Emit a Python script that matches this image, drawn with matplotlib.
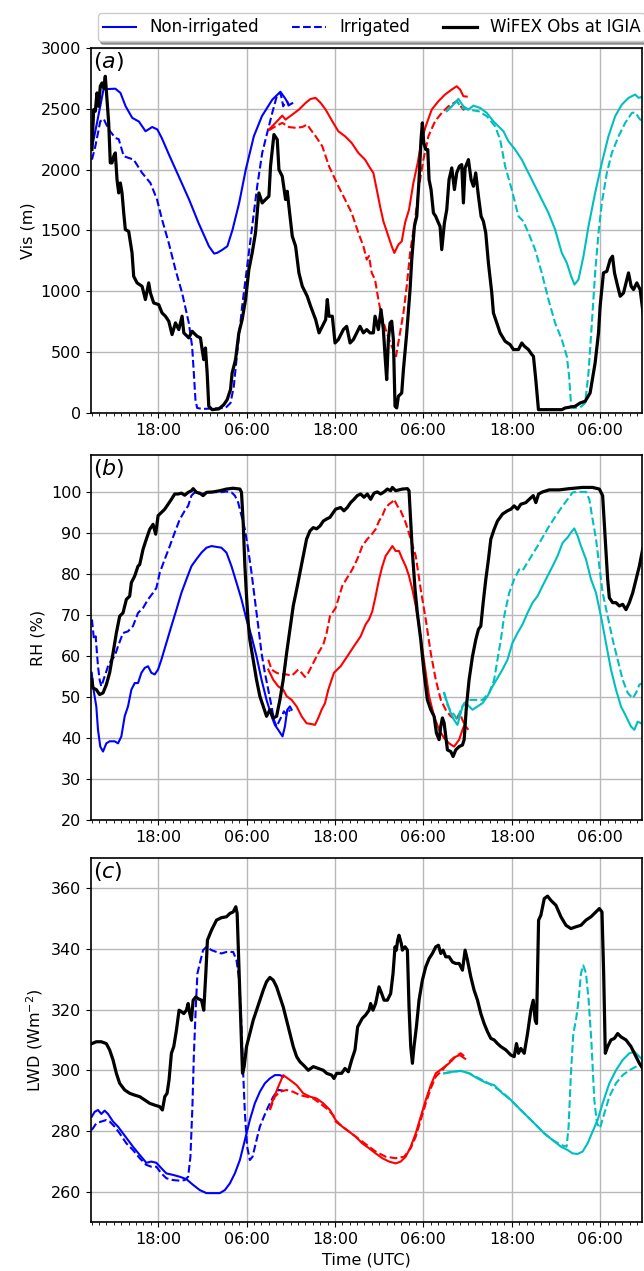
import numpy as np
import pandas as pd
import matplotlib
matplotlib.use("Agg")
import matplotlib.pyplot as plt
import matplotlib.dates as mdates

plt.rcParams["font.size"] = 11.5

# (hour since day-1 00 UTC, value)
# ---- (a) visibility (m)
vis_obs = [(9.03, 2165), (9.26, 2493), (9.49, 2480), (9.71, 2630), (9.94, 2520), (10.16, 2685),
           (10.39, 2712), (10.62, 2670), (10.84, 2767), (11.07, 2575), (11.3, 2384), (11.52, 2055),
           (11.75, 2055), (11.98, 2110), (12.2, 2137), (12.43, 1918), (12.66, 1808), (12.88, 1890),
           (13.11, 1808), (13.34, 1644), (13.56, 1507), (14.01, 1493), (14.47, 1315), (14.69, 1123),
           (15.15, 1069), (15.83, 1041), (16.28, 932), (16.73, 1069), (16.96, 986), (17.41, 904),
           (18.09, 890), (18.54, 822), (19.0, 795), (19.45, 754), (19.9, 644), (20.36, 740),
           (20.81, 685), (21.26, 795), (21.49, 658), (22.17, 617), (22.62, 671), (23.3, 630),
           (23.75, 617), (23.98, 521), (24.2, 438), (24.43, 534), (24.66, 329), (24.88, 55),
           (25.34, 27), (26.24, 33), (26.92, 68), (27.38, 110), (27.83, 192), (28.05, 329),
           (28.51, 438), (28.96, 658), (29.41, 767), (29.87, 932), (30.32, 1178), (30.77, 1315),
           (31.22, 1480), (31.68, 1808), (32.13, 1726), (32.58, 1754), (33.04, 1781), (33.26, 2028),
           (33.72, 2288), (34.17, 2247), (34.4, 2000), (34.85, 1945), (35.3, 1754), (35.53, 1822),
           (35.75, 1699), (36.21, 1452), (36.66, 1370), (37.11, 1151), (37.57, 1041), (38.24, 959),
           (38.7, 877), (39.38, 767), (39.84, 658), (40.28, 712), (40.74, 767), (40.96, 932),
           (41.19, 795), (41.64, 795), (42.01, 575), (42.46, 603), (43.14, 685), (43.59, 712),
           (44.05, 575), (44.5, 603), (44.95, 658), (45.4, 712), (45.86, 658), (46.31, 685),
           (46.76, 658), (47.21, 658), (47.44, 795), (47.89, 685), (48.25, 849), (48.57, 685),
           (48.8, 466), (49.02, 274), (49.25, 603), (49.48, 740), (49.7, 754), (49.93, 603),
           (50.15, 55), (50.38, 41), (50.61, 137), (51.06, 164), (51.29, 356), (51.74, 658),
           (52.19, 1014), (52.42, 1260), (52.78, 1534), (53.1, 1616), (53.41, 1918), (53.68, 2247),
           (53.86, 2384), (54.05, 2220), (54.32, 2165), (54.59, 2165), (54.77, 1918), (55.04, 1836),
           (55.36, 1644), (55.67, 1616), (56.04, 1562), (56.26, 1534), (56.49, 1342), (56.85, 1562),
           (57.17, 1671), (57.48, 1918), (57.85, 2014), (58.21, 1836), (58.52, 1973), (58.89, 2028),
           (59.2, 2041), (59.43, 1726), (59.66, 2014), (60.11, 2082), (60.47, 1918), (60.79, 1863),
           (61.1, 1973), (61.47, 1781), (61.83, 1616), (62.14, 1575), (62.46, 1480), (62.82, 1233),
           (63.28, 986), (63.5, 822), (63.95, 740), (64.41, 658), (65.09, 589), (65.76, 562),
           (66.22, 521), (66.9, 521), (67.35, 575), (67.71, 548), (68.25, 521), (68.71, 480),
           (68.93, 466), (69.25, 274), (69.61, 27), (70.52, 27), (72.78, 27), (73.23, 41),
           (74.59, 55), (75.27, 82), (75.95, 96), (76.62, 164), (77.3, 411), (77.76, 658),
           (77.98, 877), (78.43, 1151), (78.89, 1164), (79.34, 1260), (79.66, 1288), (79.93, 1151),
           (80.25, 1069), (80.7, 959), (81.15, 986), (81.6, 1096), (81.83, 1151), (82.19, 1041),
           (82.51, 1014), (82.96, 1069), (83.41, 1014), (83.86, 795)]

vis_dry1 = [(9.0, 2170), (9.7, 2380), (10.6, 2660), (12.2, 2665), (12.9, 2630), (13.6, 2520),
            (14.5, 2425), (15.4, 2395), (16.3, 2315), (17.2, 2350), (17.9, 2330), (18.5, 2260),
            (19.5, 2120), (20.8, 1945), (22.2, 1755), (23.5, 1560), (24.9, 1370), (25.6, 1310),
            (26.0, 1315), (26.7, 1340), (27.4, 1370), (28.1, 1505), (29.0, 1725), (29.9, 2000),
            (31.0, 2275), (32.1, 2440), (33.5, 2575), (34.6, 2640), (35.3, 2580), (35.75, 2530),
            (36.2, 2545)]
vis_wet1 = [(9.03, 2082), (9.49, 2192), (10.16, 2397), (10.62, 2417), (11.3, 2330), (12.2, 2260),
            (12.66, 2250), (13.34, 2110), (14.69, 2082), (15.83, 1973), (16.96, 1890), (17.86, 1754),
            (18.54, 1589), (19.45, 1397), (20.36, 1178), (21.26, 986), (22.17, 740), (22.62, 548),
            (22.85, 329), (23.07, 110), (23.3, 41), (23.98, 33), (27.15, 41), (27.83, 82),
            (28.28, 219), (28.73, 493), (29.41, 877), (30.09, 1205), (30.77, 1534), (31.45, 1863),
            (32.13, 2137), (32.81, 2302), (33.49, 2466), (34.17, 2617), (34.62, 2630), (34.98, 2520),
            (35.21, 2550), (35.53, 2560), (35.75, 2520)]
vis_dry2 = [(33.04, 2329), (33.94, 2384), (34.85, 2444), (35.3, 2411), (36.21, 2452), (37.11, 2493),
            (38.02, 2548), (38.7, 2581), (39.38, 2589), (40.06, 2548), (40.74, 2493), (41.64, 2397),
            (42.46, 2315), (43.37, 2274), (44.27, 2219), (45.18, 2137), (46.08, 2082), (46.76, 2014),
            (47.21, 1973), (47.67, 1836), (48.12, 1699), (48.57, 1575), (49.25, 1452), (49.7, 1370),
            (50.06, 1315), (50.61, 1384), (51.06, 1410), (51.51, 1562), (52.05, 1671), (52.64, 1890),
            (53.23, 2055), (53.77, 2247), (54.32, 2356), (55.13, 2493), (56.04, 2562), (56.94, 2617),
            (57.85, 2658), (58.52, 2685), (58.98, 2658), (59.43, 2603), (59.88, 2600)]
vis_wet2 = [(33.04, 2323), (33.94, 2356), (34.85, 2384), (35.75, 2350), (36.66, 2343), (37.57, 2350),
            (38.24, 2370), (38.7, 2329), (39.38, 2274), (40.28, 2192), (41.19, 2028), (42.46, 1863),
            (43.37, 1754), (44.27, 1644), (45.18, 1480), (45.86, 1370), (46.31, 1260), (46.62, 1290),
            (46.99, 1151), (47.44, 1096), (47.89, 932), (48.34, 795), (49.02, 658), (49.7, 548),
            (50.29, 466), (50.83, 658), (51.29, 822), (51.74, 1041), (52.19, 1315), (52.87, 1589),
            (53.41, 1863), (54.0, 2082), (54.68, 2274), (55.58, 2397), (56.49, 2466), (57.39, 2520),
            (58.52, 2562), (59.43, 2493), (59.88, 2507)]
vis_dry3 = [(57.17, 2480), (58.07, 2534), (58.75, 2581), (59.43, 2520), (60.11, 2493), (60.79, 2526),
            (61.69, 2507), (62.6, 2466), (63.5, 2397), (64.18, 2356), (64.86, 2315), (65.54, 2233),
            (66.44, 2165), (67.35, 2082), (68.25, 1973), (69.16, 1863), (70.06, 1754), (70.97, 1644),
            (71.87, 1507), (72.78, 1315), (73.46, 1233), (74.05, 1123), (74.5, 1055), (75.04, 1096),
            (75.72, 1288), (76.4, 1534), (77.3, 1808), (78.21, 2055), (79.11, 2274), (80.02, 2439),
            (80.92, 2534), (81.83, 2589), (82.73, 2617), (83.19, 2590), (83.86, 2600)]
vis_wet3 = [(57.17, 2480), (57.85, 2520), (58.52, 2562), (59.2, 2507), (60.11, 2493), (61.47, 2480),
            (62.6, 2439), (63.73, 2356), (64.41, 2247), (65.09, 2028), (65.99, 1836), (66.9, 1616),
            (67.57, 1575), (68.25, 1480), (69.16, 1342), (70.06, 1151), (70.97, 932), (71.87, 740),
            (72.78, 603), (73.46, 466), (73.77, 301), (74.05, 55), (74.36, 41), (75.27, 45),
            (75.95, 82), (76.4, 329), (76.86, 740), (77.3, 1151), (77.76, 1480), (78.21, 1726),
            (78.89, 1973), (79.57, 2137), (80.48, 2274), (81.38, 2384), (82.29, 2466), (82.73, 2470),
            (83.41, 2411), (83.86, 2400)]

# ---- (b) relative humidity (%)
rh_obs = [(9.03, 54.2), (9.17, 52.2), (9.62, 51.8), (10.07, 50.6), (10.53, 51.0), (10.98, 53.0),
          (11.43, 55.9), (11.89, 60.7), (12.34, 65.6), (12.79, 69.7), (13.24, 70.5), (13.7, 73.8),
          (14.15, 74.6), (14.38, 77.9), (14.83, 79.5), (15.28, 81.9), (15.51, 82.3), (15.96, 86.0),
          (16.41, 88.5), (16.87, 90.9), (17.32, 92.1), (17.68, 89.7), (18.0, 94.2), (18.45, 95.0),
          (18.91, 95.8), (19.36, 97.0), (19.81, 98.2), (20.26, 99.5), (20.72, 99.5), (21.17, 99.7),
          (21.62, 99.2), (22.08, 99.9), (22.53, 100.3), (22.76, 100.8), (23.21, 99.9), (23.66, 99.7),
          (24.11, 99.1), (24.57, 99.9), (25.47, 100.0), (26.38, 100.3), (27.28, 100.7), (28.19, 100.9),
          (29.1, 100.7), (29.32, 99.9), (29.55, 92.5), (29.78, 81.9), (30.0, 74.6), (30.23, 68.1),
          (30.45, 64.0), (30.91, 59.1), (31.36, 54.2), (31.81, 50.2), (32.27, 47.7), (32.72, 45.3),
          (33.17, 46.9), (33.63, 44.9), (34.08, 45.3), (34.53, 49.3), (34.98, 54.2), (35.44, 60.7),
          (35.89, 66.5), (36.34, 72.2), (36.8, 76.2), (37.25, 80.3), (37.7, 84.4), (38.15, 88.5),
          (38.61, 90.5), (39.06, 91.3), (39.51, 91.0), (39.97, 91.7), (40.42, 92.9), (40.87, 93.4),
          (41.32, 93.8), (42.09, 95.8), (42.77, 96.2), (43.22, 95.4), (43.67, 96.2), (44.13, 97.4),
          (44.58, 98.2), (45.03, 99.1), (45.49, 99.5), (45.94, 98.7), (46.39, 99.5), (46.84, 98.2),
          (47.3, 99.7), (47.75, 100.0), (48.2, 99.5), (48.66, 100.0), (49.11, 100.7), (49.56, 100.3),
          (49.79, 101.1), (50.24, 100.3), (51.15, 100.7), (51.83, 100.8), (52.05, 100.3), (52.28, 92.5),
          (52.51, 85.2), (52.87, 76.2), (53.18, 70.5), (53.64, 64.0), (54.09, 55.9), (54.54, 49.3),
          (55.0, 46.9), (55.45, 45.3), (55.77, 41.2), (56.13, 39.6), (56.36, 42.9), (56.58, 44.9),
          (56.81, 43.7), (57.03, 40.4), (57.26, 37.1), (57.71, 36.7), (58.03, 35.5), (58.39, 37.1),
          (58.85, 37.9), (59.3, 38.3), (59.53, 39.6), (59.84, 47.7), (60.2, 54.2), (60.66, 59.9),
          (61.11, 64.0), (61.47, 66.5), (61.79, 67.3), (62.11, 73.0), (62.47, 78.7), (62.83, 83.6),
          (63.15, 88.5), (63.6, 90.9), (64.05, 92.9), (64.73, 94.6), (65.41, 95.4), (65.87, 95.8),
          (66.32, 96.6), (66.77, 95.8), (67.22, 97.0), (67.9, 97.4), (68.36, 98.2), (68.9, 99.1),
          (69.26, 97.4), (69.63, 99.5), (70.17, 100.0), (71.07, 100.5), (72.43, 100.5), (73.79, 100.8),
          (75.6, 101.1), (76.96, 101.1), (77.87, 100.7), (78.32, 99.1), (78.68, 88.5), (79.0, 78.7),
          (79.23, 74.2), (79.68, 73.0), (80.13, 73.0), (80.59, 72.2), (81.04, 72.6), (81.49, 71.3),
          (81.94, 73.0), (82.4, 75.4), (82.85, 78.7), (83.3, 81.9), (83.75, 86.0)]

rh_dry1 = [(9.0, 55.9), (9.17, 52.6), (9.62, 47.7), (9.85, 42.0), (10.16, 37.9), (10.53, 36.7),
           (10.98, 38.7), (11.43, 39.2), (12.11, 39.2), (12.57, 38.7), (13.02, 40.4), (13.47, 45.3),
           (13.92, 47.7), (14.38, 51.8), (14.83, 53.4), (15.28, 53.4), (15.74, 55.9), (16.19, 57.1),
           (16.64, 57.5), (17.09, 55.9), (17.55, 55.5), (18.0, 56.7), (18.45, 59.1), (19.13, 63.2),
           (19.81, 67.3), (20.49, 71.3), (21.17, 75.4), (21.85, 78.7), (22.53, 81.9), (23.21, 83.6),
           (23.89, 85.2), (24.57, 86.4), (25.25, 86.8), (25.93, 86.6), (26.6, 86.4), (27.28, 85.2),
           (27.96, 81.9), (28.64, 77.9), (29.32, 73.8), (30.0, 68.9), (30.68, 64.8), (31.36, 59.9),
           (32.04, 54.2), (32.72, 49.3), (33.4, 45.3), (33.85, 43.2), (34.3, 42.0), (34.89, 40.4),
           (35.21, 42.8), (35.53, 46.9), (35.89, 47.7), (36.12, 46.9)]
rh_wet1 = [(9.03, 68.9), (9.3, 64.0), (9.53, 64.8), (9.85, 57.5), (10.07, 54.2), (10.3, 52.6),
           (10.75, 55.0), (11.21, 57.5), (11.66, 59.1), (12.11, 59.9), (12.57, 62.4), (13.24, 65.6),
           (13.92, 66.0), (14.6, 67.3), (15.28, 70.5), (15.96, 71.7), (16.64, 73.8), (17.32, 75.4),
           (17.77, 76.6), (18.23, 80.3), (18.91, 83.6), (19.59, 86.8), (20.26, 90.1), (20.94, 93.3),
           (21.62, 95.4), (22.08, 96.6), (22.53, 99.1), (22.98, 99.9), (23.66, 99.5), (24.57, 99.7),
           (25.47, 100.0), (26.38, 99.9), (27.28, 100.1), (27.96, 99.9), (28.42, 99.1), (28.87, 97.4),
           (29.32, 94.2), (29.78, 90.9), (30.23, 86.0), (30.68, 80.3), (31.13, 73.8), (31.59, 67.3),
           (32.04, 60.7), (32.49, 55.9), (32.95, 51.8), (33.4, 47.7), (33.72, 44.4), (34.08, 42.8),
           (34.3, 43.6), (34.76, 45.3), (35.08, 46.5), (35.44, 45.7), (35.66, 46.1), (35.89, 46.9)]
rh_dry2 = [(32.95, 56.7), (33.63, 54.2), (34.3, 52.6), (34.98, 51.8), (35.44, 50.2), (36.12, 49.3),
           (36.8, 47.7), (37.47, 45.3), (38.15, 43.6), (38.83, 43.4), (39.29, 43.2), (39.74, 44.9),
           (40.19, 46.9), (40.65, 48.5), (41.1, 51.8), (41.86, 55.9), (42.77, 57.5), (43.67, 59.9),
           (44.58, 62.4), (45.49, 64.8), (46.16, 67.7), (46.62, 68.9), (47.07, 70.9), (47.52, 74.6),
           (47.98, 78.7), (48.43, 81.9), (48.88, 84.4), (49.34, 85.6), (49.79, 86.8), (50.24, 85.6),
           (50.69, 85.6), (51.15, 83.6), (51.6, 81.9), (52.05, 79.5), (52.51, 76.2), (52.96, 72.2),
           (53.41, 67.3), (53.86, 61.6), (54.32, 55.9), (54.77, 50.2), (55.45, 45.3), (56.13, 42.0),
           (56.81, 40.0), (57.49, 38.7), (58.17, 37.9), (58.85, 39.6), (59.3, 42.0), (59.75, 44.0)]
rh_wet2 = [(32.95, 59.1), (33.4, 56.7), (34.08, 55.9), (34.76, 55.5), (35.44, 55.5), (36.12, 55.2),
           (36.57, 55.9), (37.02, 56.7), (37.47, 55.9), (37.93, 54.9), (38.38, 55.9), (39.06, 58.3),
           (39.74, 60.7), (40.42, 62.8), (40.87, 65.6), (41.32, 69.7), (42.09, 71.7), (43.0, 77.1),
           (43.67, 79.1), (44.35, 81.1), (45.03, 83.6), (45.71, 86.8), (46.39, 88.5), (46.84, 89.3),
           (47.52, 90.9), (47.98, 92.9), (48.43, 94.2), (48.88, 96.2), (49.34, 97.0), (49.79, 97.6),
           (50.02, 98.2), (50.47, 96.6), (50.92, 95.4), (51.6, 92.5), (52.28, 88.5), (52.96, 84.4),
           (53.64, 76.2), (54.32, 68.9), (55.0, 60.7), (55.68, 54.2), (56.36, 49.3), (57.03, 46.9),
           (57.71, 45.3), (58.39, 44.4), (58.94, 46.1), (59.3, 44.4), (59.75, 42.8), (60.11, 42.0)]
rh_dry3 = [(56.81, 51.0), (57.26, 48.5), (57.71, 46.1), (58.17, 44.4), (58.62, 43.2), (59.07, 46.1),
           (59.3, 47.7), (59.75, 48.5), (60.2, 47.7), (60.66, 46.9), (61.34, 47.7), (62.02, 48.5),
           (62.7, 50.2), (63.38, 52.6), (64.05, 54.6), (64.73, 56.7), (65.41, 59.1), (66.09, 63.2),
           (66.77, 65.6), (67.45, 67.7), (68.13, 70.5), (68.81, 73.0), (69.49, 74.6), (70.17, 77.1),
           (70.85, 79.5), (71.53, 81.9), (72.21, 84.4), (72.89, 87.6), (73.57, 88.9), (74.02, 90.1),
           (74.47, 91.1), (74.92, 89.3), (75.38, 86.8), (76.06, 83.6), (76.74, 78.7), (77.42, 75.4),
           (78.09, 69.7), (78.77, 63.2), (79.45, 56.7), (80.13, 51.8), (80.81, 47.7), (81.49, 45.3),
           (82.17, 42.8), (82.62, 42.0), (83.08, 44.0), (83.53, 43.6)]
rh_wet3 = [(56.81, 51.0), (57.26, 48.1), (57.71, 46.5), (58.17, 45.7), (58.62, 44.4), (59.07, 46.9),
           (59.53, 48.5), (60.2, 49.3), (61.11, 49.3), (62.02, 49.3), (62.92, 51.0), (63.6, 54.2),
           (64.05, 59.1), (64.51, 64.0), (64.96, 69.7), (65.64, 75.4), (66.32, 78.7), (67.0, 81.1),
           (67.45, 80.8), (68.13, 82.8), (68.81, 84.8), (69.49, 86.8), (70.17, 88.9), (71.07, 91.7),
           (71.98, 94.2), (72.89, 96.6), (73.57, 98.2), (74.25, 99.9), (75.15, 100.0), (76.06, 100.0),
           (76.51, 98.2), (76.96, 93.3), (77.42, 88.5), (77.87, 81.9), (78.32, 75.4), (79.0, 69.7),
           (79.68, 64.0), (80.36, 59.1), (81.04, 54.2), (81.72, 51.0), (82.4, 49.7), (82.85, 51.0),
           (83.3, 53.0), (83.75, 53.4)]

# ---- (c) downward longwave (W m-2)
lwd_obs = [(9.03, 308.8), (9.62, 309.4), (10.3, 309.4), (10.98, 308.8), (11.43, 306.7), (11.89, 303.4),
           (12.34, 299.0), (12.79, 295.7), (13.47, 293.5), (14.15, 292.4), (14.83, 291.8), (15.51, 291.3),
           (16.19, 290.2), (16.87, 289.1), (17.55, 288.5), (18.23, 288.0), (18.59, 286.9), (18.91, 291.3),
           (19.22, 292.4), (19.49, 296.8), (19.81, 305.6), (20.13, 307.8), (20.49, 313.2), (20.85, 319.8),
           (21.17, 319.3), (21.49, 318.7), (21.85, 319.8), (22.08, 322.0), (22.3, 318.7), (22.53, 316.5),
           (22.76, 323.1), (23.12, 324.2), (23.43, 323.6), (23.89, 323.1), (24.2, 319.8), (24.48, 331.9),
           (24.7, 342.9), (25.25, 346.2), (25.93, 349.5), (26.6, 350.3), (27.28, 350.6), (27.74, 351.7),
           (28.19, 352.2), (28.55, 353.9), (28.73, 351.7), (29.01, 331.9), (29.23, 315.4), (29.46, 299.0),
           (29.68, 301.2), (30.0, 307.8), (30.45, 312.1), (30.91, 316.5), (31.36, 319.8), (31.81, 323.1),
           (32.27, 326.4), (32.72, 329.2), (33.17, 330.6), (33.63, 329.7), (34.08, 327.5), (34.53, 324.2),
           (34.98, 320.9), (35.44, 316.5), (35.89, 312.1), (36.34, 307.8), (36.8, 304.5), (37.25, 302.8),
           (37.93, 301.2), (38.38, 300.0), (39.06, 301.2), (39.74, 300.6), (40.42, 300.0), (40.87, 299.0),
           (41.55, 298.4), (41.87, 297.3), (42.23, 299.0), (42.91, 299.0), (43.36, 300.6), (43.82, 299.5),
           (44.27, 303.4), (44.72, 306.7), (45.08, 314.3), (45.71, 317.1), (46.16, 318.2), (46.62, 319.8),
           (46.84, 322.0), (47.16, 319.8), (47.52, 322.0), (47.98, 327.5), (48.34, 325.3), (48.66, 323.1),
           (49.11, 323.1), (49.56, 325.3), (49.88, 331.9), (50.15, 340.7), (50.33, 339.6), (50.51, 342.9),
           (50.69, 344.5), (51.0, 341.8), (51.15, 339.6), (51.51, 340.7), (51.83, 339.6), (52.05, 320.9),
           (52.28, 307.8), (52.51, 302.3), (52.73, 307.8), (53.05, 314.3), (53.41, 323.1), (53.86, 329.7),
           (54.32, 334.1), (54.77, 336.8), (55.22, 338.5), (55.68, 340.7), (56.04, 341.2), (56.36, 338.5),
           (56.67, 339.6), (57.03, 337.4), (57.49, 337.4), (57.94, 335.7), (58.39, 335.2), (58.85, 335.2),
           (59.3, 333.0), (59.66, 339.6), (59.98, 336.3), (60.43, 330.8), (60.88, 326.4), (61.34, 323.1),
           (61.79, 318.7), (62.24, 315.4), (62.7, 312.7), (63.15, 310.5), (63.6, 310.0), (64.05, 308.8),
           (64.51, 307.8), (65.19, 306.7), (65.87, 305.0), (66.32, 304.5), (66.63, 308.8), (66.9, 305.6),
           (67.22, 307.2), (67.68, 305.6), (68.13, 312.1), (68.58, 319.8), (68.9, 323.1), (69.17, 316.5),
           (69.35, 315.4), (69.63, 349.5), (69.94, 351.1), (70.4, 356.6), (70.85, 357.4), (71.3, 356.0),
           (71.98, 354.4), (72.66, 350.6), (73.34, 347.8), (74.02, 346.7), (74.7, 347.3), (75.38, 347.8),
           (76.06, 349.5), (76.74, 350.6), (77.42, 352.2), (77.87, 353.3), (78.23, 352.2), (78.46, 331.9),
           (78.68, 305.6), (79.0, 307.8), (79.45, 310.0), (79.91, 310.5), (80.36, 312.1), (80.81, 311.0),
           (81.49, 310.0), (82.17, 307.8), (82.85, 304.5), (83.3, 302.3), (83.75, 300.6)]

lwd_dry1 = [(9.0, 284.7), (9.4, 286.3), (9.85, 286.9), (10.3, 285.6), (10.75, 286.7), (11.21, 285.6),
            (11.89, 283.1), (12.57, 281.4), (13.24, 279.2), (13.92, 277.0), (14.6, 274.8), (15.51, 272.1),
            (16.41, 269.5), (17.09, 269.9), (17.77, 269.5), (18.45, 267.7), (19.13, 266.0), (20.04, 265.5),
            (20.94, 264.9), (21.85, 264.1), (22.76, 262.2), (23.66, 260.5), (24.57, 259.5), (25.47, 259.5),
            (26.38, 259.5), (27.06, 260.5), (27.74, 262.7), (28.42, 266.0), (29.1, 270.4), (29.78, 277.0),
            (30.45, 283.6), (31.13, 289.1), (31.81, 292.9), (32.49, 295.7), (33.17, 297.3), (33.85, 298.4),
            (34.53, 298.4), (34.98, 297.9)]
lwd_wet1 = [(9.0, 280.3), (9.62, 282.5), (10.3, 283.1), (10.98, 283.6), (11.43, 283.1), (12.11, 281.4),
            (12.79, 279.2), (13.7, 275.9), (14.6, 273.7), (15.51, 271.0), (16.41, 268.8), (17.09, 268.2),
            (17.77, 268.2), (18.45, 266.0), (19.13, 264.4), (20.04, 263.8), (20.94, 263.6), (21.62, 263.8),
            (22.08, 264.9), (22.39, 271.5), (22.66, 288.0), (22.85, 304.5), (23.12, 320.9), (23.34, 331.9),
            (23.66, 335.2), (24.11, 339.6), (24.57, 340.7), (25.25, 339.6), (25.93, 339.0), (26.6, 338.5),
            (27.28, 339.0), (28.19, 339.0), (28.64, 336.3), (29.01, 329.7), (29.32, 314.3), (29.55, 299.0),
            (29.78, 285.8), (30.09, 274.8), (30.45, 270.4), (30.82, 271.5), (31.36, 277.0), (31.81, 281.4),
            (32.36, 284.7), (32.95, 288.0), (33.63, 291.3), (34.3, 293.5), (34.98, 293.3)]
lwd_dry2 = [(33.2, 287.5), (33.63, 290.5), (34.3, 294.5), (34.98, 298.4), (35.89, 296.8), (36.8, 295.1),
            (37.7, 292.4), (38.61, 291.3), (39.51, 290.7), (40.42, 289.1), (41.32, 286.9), (42.09, 283.6),
            (43.0, 281.4), (43.9, 279.8), (44.81, 278.1), (45.71, 275.9), (46.62, 274.3), (47.52, 272.6),
            (48.43, 271.0), (49.34, 269.9), (50.24, 269.3), (50.92, 269.9), (51.6, 271.5), (52.28, 274.8),
            (52.96, 279.2), (53.64, 284.7), (54.32, 290.2), (55.0, 295.1), (55.68, 299.0), (56.58, 300.6),
            (57.49, 302.3), (58.39, 304.5), (58.94, 305.0), (59.3, 304.4), (59.66, 303.8)]
lwd_wet2 = [(33.17, 286.9), (33.85, 291.3), (34.53, 292.9), (35.44, 293.5), (36.34, 292.9), (37.25, 291.8),
            (38.15, 291.3), (39.06, 290.7), (39.97, 289.1), (40.87, 287.4), (41.78, 285.2), (42.09, 283.1),
            (43.9, 279.8), (45.71, 276.5), (47.52, 273.2), (48.88, 271.5), (50.24, 271.0), (51.38, 271.5),
            (52.28, 274.3), (52.96, 278.1), (53.64, 283.6), (54.32, 289.1), (55.0, 294.0), (55.68, 297.9),
            (56.58, 300.0), (57.49, 302.8), (58.39, 304.7), (59.07, 305.6), (59.66, 304.4)]
lwd_dry3 = [(56.81, 299.0), (57.94, 299.5), (59.07, 299.8), (60.2, 299.0), (61.34, 297.3), (62.47, 295.9),
            (63.6, 295.1), (64.73, 292.4), (65.87, 290.2), (67.0, 287.4), (68.13, 284.7), (69.26, 282.0),
            (70.4, 279.2), (71.53, 277.0), (72.66, 274.8), (73.57, 273.7), (74.25, 272.6), (74.92, 272.4),
            (75.6, 273.2), (76.28, 275.9), (76.96, 279.8), (77.64, 283.6), (78.32, 289.1), (79.23, 295.7),
            (80.13, 300.0), (81.04, 303.4), (81.94, 305.6), (82.62, 306.1), (83.3, 304.5), (83.75, 303.4)]
lwd_wet3 = [(56.81, 299.0), (57.94, 299.5), (59.07, 299.8), (60.2, 299.0), (61.34, 297.6), (62.47, 296.2),
            (63.6, 294.6), (64.73, 292.7), (65.87, 290.2), (67.0, 287.4), (68.13, 284.7), (69.26, 282.0),
            (70.4, 279.2), (71.53, 277.0), (72.66, 275.4), (73.43, 274.8), (73.7, 281.4), (74.02, 299.0),
            (74.34, 312.1), (74.7, 316.5), (75.06, 323.1), (75.38, 331.9), (75.69, 334.6), (76.06, 332.0),
            (76.42, 323.1), (76.78, 310.0), (77.19, 290.2), (77.55, 282.5), (77.96, 280.9), (78.55, 285.8),
            (79.23, 291.3), (80.13, 295.7), (81.04, 298.4), (81.94, 300.0), (82.85, 301.2), (83.75, 302.3)]

start = pd.Timestamp("2017-12-23 00:00")


def split(series):
    h, v = zip(*series)
    return start + pd.to_timedelta(np.array(h), unit="h"), np.array(v)


fig = plt.figure(figsize=(6.44, 12.71), dpi=100)
ax_a = fig.add_axes([0.1413, 0.6751, 0.8549, 0.2872])
ax_b = fig.add_axes([0.1413, 0.3548, 0.8549, 0.2872])
ax_c = fig.add_axes([0.1413, 0.0386, 0.8549, 0.2864])

panels = [
    (ax_a, vis_obs, [vis_dry1, vis_dry2, vis_dry3], [vis_wet1, vis_wet2, vis_wet3]),
    (ax_b, rh_obs, [rh_dry1, rh_dry2, rh_dry3], [rh_wet1, rh_wet2, rh_wet3]),
    (ax_c, lwd_obs, [lwd_dry1, lwd_dry2, lwd_dry3], [lwd_wet1, lwd_wet2, lwd_wet3]),
]
colors = ["b", "r", "c"]

for ax, obs, dry, wet in panels:
    for d, w, col in zip(dry, wet, colors):
        t, v = split(d)
        ax.plot(t, v, color=col, lw=1.5, ls="-")
        t, v = split(w)
        ax.plot(t, v, color=col, lw=1.5, ls="--")
    t, v = split(obs)
    ax.plot(t, v, color="k", lw=2.3)

    ax.set_xlim(start + pd.Timedelta(hours=8.9), start + pd.Timedelta(hours=83.6))
    ax.xaxis.set_major_locator(mdates.HourLocator(byhour=[6, 18]))
    ax.xaxis.set_major_formatter(mdates.DateFormatter("%H:%M"))
    ax.xaxis.set_minor_locator(mdates.HourLocator())
    ax.grid(True, color="#b8b8b8", lw=1.0)
    for s in ax.spines.values():
        s.set_linewidth(1.2)

ax_a.set_ylim(0, 3000)
ax_a.set_yticks(np.arange(0, 3001, 500))
ax_a.set_ylabel("Vis (m)")

ax_b.set_ylim(20, 109)
ax_b.set_yticks(np.arange(20, 101, 10))
ax_b.set_ylabel("RH (%)")

ax_c.set_ylim(250, 370)
ax_c.set_yticks(np.arange(260, 361, 20))
ax_c.set_ylabel(r"LWD (Wm$^{-2}$)")
ax_c.set_xlabel("Time (UTC)")

for ax, tag in zip([ax_a, ax_b, ax_c], ["a", "b", "c"]):
    ax.text(0.004, 0.995, "$(" + tag + ")$", transform=ax.transAxes,
            fontsize=16, va="top", ha="left")

handles = [plt.Line2D([], [], color="b", lw=1.5, ls="-"),
           plt.Line2D([], [], color="b", lw=1.5, ls="--"),
           plt.Line2D([], [], color="k", lw=2.3)]
fig.legend(handles, ["Non-irrigated", "Irrigated", "WiFEX Obs at IGIA"],
           loc="upper left", bbox_to_anchor=(0.1517, 0.9895), borderaxespad=0,
           borderpad=0.3, ncol=3, shadow=True, fontsize=12)

fig.savefig("out.png", dpi=100)
